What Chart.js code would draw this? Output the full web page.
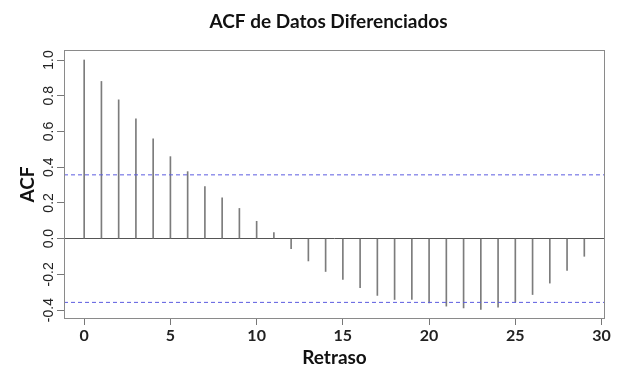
<!DOCTYPE html>
<html>
<head>
<meta charset="utf-8">
<script src="https://cdn.jsdelivr.net/npm/chart.js@4/dist/chart.umd.min.js"></script>
<style>
  body { margin: 0; background: #fff; }
</style>
</head>
<body>
<canvas id="acfChart" width="620" height="375"></canvas>
<script>
const lags = [0, 1, 2, 3, 4, 5, 6, 7, 8, 9, 10, 11, 12, 13, 14, 15, 16, 17, 18, 19, 20, 21, 22, 23, 24, 25, 26, 27, 28, 29];
const acfValues = [1.0, 0.88, 0.777, 0.67, 0.558, 0.459, 0.375, 0.292, 0.228, 0.169, 0.097, 0.034,
  -0.056, -0.125, -0.184, -0.228, -0.275, -0.318, -0.341, -0.341, -0.36, -0.378, -0.388, -0.397,
  -0.384, -0.355, -0.313, -0.249, -0.178, -0.099];
const confLimit = 0.357;
const xRange = [-1.17, 30.2];
const yRange = [-0.45, 1.056];

const titleText = "ACF de Datos Diferenciados";

// title centred over the plot box + rotated y tick labels + box
const decorations = {
  id: 'decorations',
  afterDraw(chart) {
    const ctx = chart.ctx;
    const area = chart.chartArea;
    ctx.save();
    ctx.strokeStyle = '#8a8a8a';
    ctx.lineWidth = 1;
    ctx.strokeRect(area.left + 0.5, area.top + 0.5, area.right - area.left - 1, area.bottom - area.top - 1);

    ctx.fillStyle = '#111';
    ctx.font = 'bold 19px Lato';
    ctx.textAlign = 'center';
    ctx.textBaseline = 'middle';
    ctx.fillText(titleText, (area.left + area.right) / 2 - 6, 22);

    const yScale = chart.scales.y;
    ctx.font = '14px "Liberation Sans"';
    ctx.fillStyle = '#222';
    yScale.ticks.forEach(t => {
      const y = yScale.getPixelForValue(t.value);
      ctx.save();
      ctx.translate(49, y);
      ctx.rotate(-Math.PI / 2);
      ctx.fillText(t.value.toFixed(1), 0, 0);
      ctx.restore();
    });
    ctx.restore();
  }
};

new Chart("acfChart", {
  type: "bar",
  data: {
    datasets: [
      {
        type: "bar",
        data: lags.map((l, i) => ({x: l, y: acfValues[i]})),
        backgroundColor: "#7c7c7c",
        barThickness: 1,
        order: 2
      },
      {
        type: "line",
        data: [{x: xRange[0], y: confLimit}, {x: xRange[1], y: confLimit}],
        borderColor: "#5c5ce0",
        borderWidth: 1,
        borderDash: [4, 3],
        pointRadius: 0,
        fill: false,
        order: 1
      },
      {
        type: "line",
        data: [{x: xRange[0], y: -confLimit}, {x: xRange[1], y: -confLimit}],
        borderColor: "#5c5ce0",
        borderWidth: 1,
        borderDash: [4, 3],
        pointRadius: 0,
        fill: false,
        order: 1
      }
    ]
  },
  options: {
    responsive: false,
    animation: false,
    layout: { padding: { top: 50, right: 15, left: 0, bottom: 0 } },
    plugins: {
      legend: { display: false },
      tooltip: { enabled: false }
    },
    scales: {
      x: {
        type: "linear",
        min: xRange[0],
        max: xRange[1],
        offset: false,
        ticks: {
          stepSize: 5,
          includeBounds: false,
          color: "#222",
          font: { family: "Lato", size: 16, weight: "bold" },
          padding: 1,
          maxRotation: 0
        },
        grid: { offset: false, drawOnChartArea: false, drawTicks: true, tickLength: 6, tickColor: "#777" },
        border: { display: false },
        title: {
          display: true,
          text: "Retraso",
          color: "#111",
          font: { family: "Lato", size: 19, weight: "bold" },
          padding: { top: 6, bottom: 6 }
        },
        afterFit(scale) { scale.height = 56; }
      },
      y: {
        min: yRange[0],
        max: yRange[1],
        ticks: {
          stepSize: 0.2,
          includeBounds: false,
          display: false
        },
        grid: {
          drawTicks: true,
          tickLength: 7,
          tickColor: "#777",
          color: ctx => (ctx.tick && Math.abs(ctx.tick.value) < 1e-9) ? "#555" : "rgba(0,0,0,0)"
        },
        border: { display: false },
        title: {
          display: true,
          text: "ACF",
          color: "#111",
          font: { family: "Lato", size: 19, weight: "bold" },
          padding: { top: 16, bottom: 16 }
        },
        afterFit(scale) { scale.width = 64; }
      }
    }
  },
  plugins: [decorations]
});
</script>
</body>
</html>
